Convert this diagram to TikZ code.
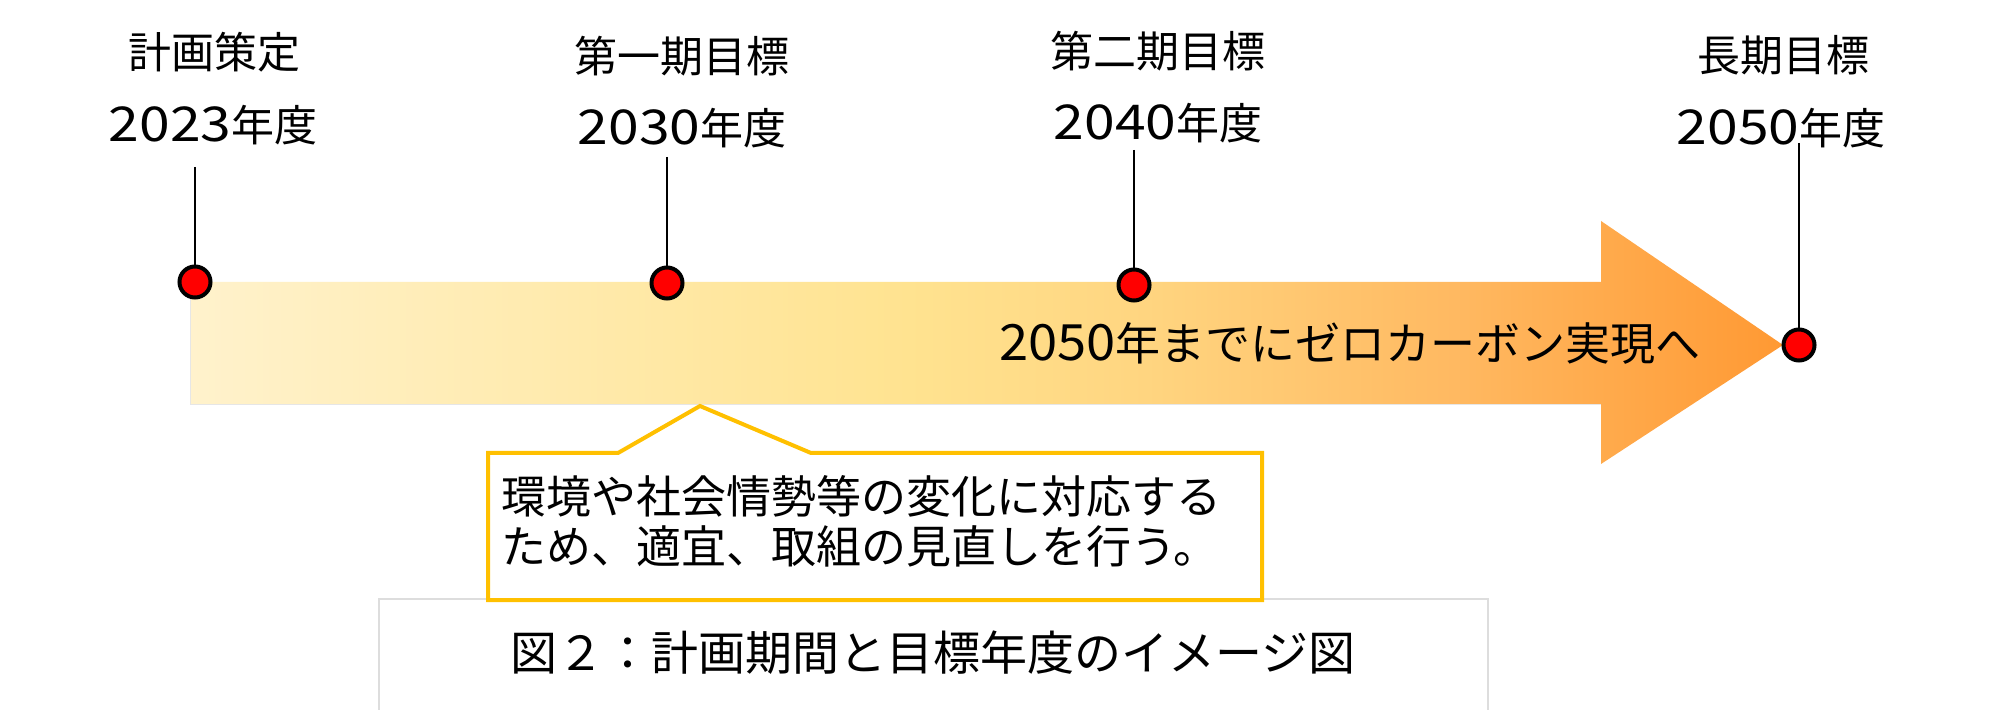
\documentclass[tikz,border=0pt]{standalone}
\usepackage{fontspec}
\usepackage{graphicx}
\setmainfont{Noto Sans CJK JP}
\definecolor{gA}{HTML}{FFF2CC}
\definecolor{gB}{HTML}{FFE390}
\definecolor{gC}{HTML}{FFD580}
\definecolor{gD}{HTML}{FFB860}
\definecolor{gE}{HTML}{FF9933}
\definecolor{callyellow}{HTML}{FFC000}
\definecolor{capgray}{HTML}{DDDDDD}
\definecolor{baredge}{HTML}{E6E6E6}
\pgfdeclarehorizontalshading{barshade}{100bp}{color(0bp)=(gA); color(25bp)=(gA); color(47.5bp)=(gB); color(55bp)=(gC); color(65bp)=(gD); color(75bp)=(gE); color(100bp)=(gE)}
\newcommand{\wdig}[3]{\scalebox{#3}[1]{\fontsize{#1}{#1}\selectfont #2}}
\begin{document}
\begin{tikzpicture}[x=0.5pt,y=-0.5pt,
  lbl/.style={font=\fontsize{21.5}{24}\selectfont, inner sep=0pt, text=black},
  bodytext/.style={font=\fontsize{22.5}{25}\selectfont, inner sep=0pt, text=black},
  captext/.style={font=\fontsize{23.5}{26}\selectfont, inner sep=0pt, text=black},
  dot/.style={circle, draw=black, line width=2pt, fill=red, minimum size=15.5pt, inner sep=0pt},
  stem/.style={draw=black, line width=0.8pt},
  callframe/.style={draw=callyellow, line width=2pt, fill=white, line join=miter},
  capframe/.style={draw=capgray, line width=0.7pt}]
\fill[white] (0,0) rectangle (2000,710);
\useasboundingbox (0,0) rectangle (2000,710);

% caption frame (runs off the bottom)
\draw[capframe] (379,730) -- (379,599) -- (1488,599) -- (1488,730);
\node[captext] (caption) at (933,653) {図２：計画期間と目標年度のイメージ図};

% big gradient arrow
\draw[baredge, line width=0.6pt] (191,282) -- (191,404) -- (1601,404);
\shade[shading=barshade] (191,282) -- (1601,282) -- (1601,221) -- (1783,345)
  -- (1601,464) -- (1601,404) -- (191,404) -- cycle;
\node[bodytext] (goal) at (1350,343) {\wdig{25pt}{2050}{1.05}年までにゼロカーボン実現へ};

% callout
\draw[callframe] (488,453) -- (618,453) -- (700,406) -- (811,453) -- (1262,453)
  -- (1262,600) -- (488,600) -- cycle;
\node[bodytext, anchor=west, align=left] (note) at (501,521)
  {環境や社会情勢等の変化に対応する\\ため、適宜、取組の見直しを行う。};

% labels
\node[lbl] (n1) at (214,52) {計画策定};
\node[lbl] (y1) at (213,125) {\wdig{24pt}{2023}{1.15}年度};
\node[lbl] (n2) at (682,56) {第一期目標};
\node[lbl] (y2) at (682,128) {\wdig{24pt}{2030}{1.15}年度};
\node[lbl] (n3) at (1158,51) {第二期目標};
\node[lbl] (y3) at (1158,123) {\wdig{24pt}{2040}{1.15}年度};
\node[lbl] (n4) at (1783,55) {長期目標};
\node[lbl] (y4) at (1781,128) {\wdig{24pt}{2050}{1.15}年度};

% stems and dots
\coordinate (t1) at (195,167); \coordinate (p1) at (195,282);
\coordinate (t2) at (667,157); \coordinate (p2) at (667,283);
\coordinate (t3) at (1134,150); \coordinate (p3) at (1134,285);
\coordinate (t4) at (1799,143); \coordinate (p4) at (1799,345);
\draw[stem] (t1) -- (p1);
\draw[stem] (t2) -- (p2);
\draw[stem] (t3) -- (p3);
\draw[stem] (t4) -- (p4);
\node[dot] (d1) at (p1) {};
\node[dot] (d2) at (p2) {};
\node[dot] (d3) at (p3) {};
\node[dot] (d4) at (p4) {};
\end{tikzpicture}
\end{document}
